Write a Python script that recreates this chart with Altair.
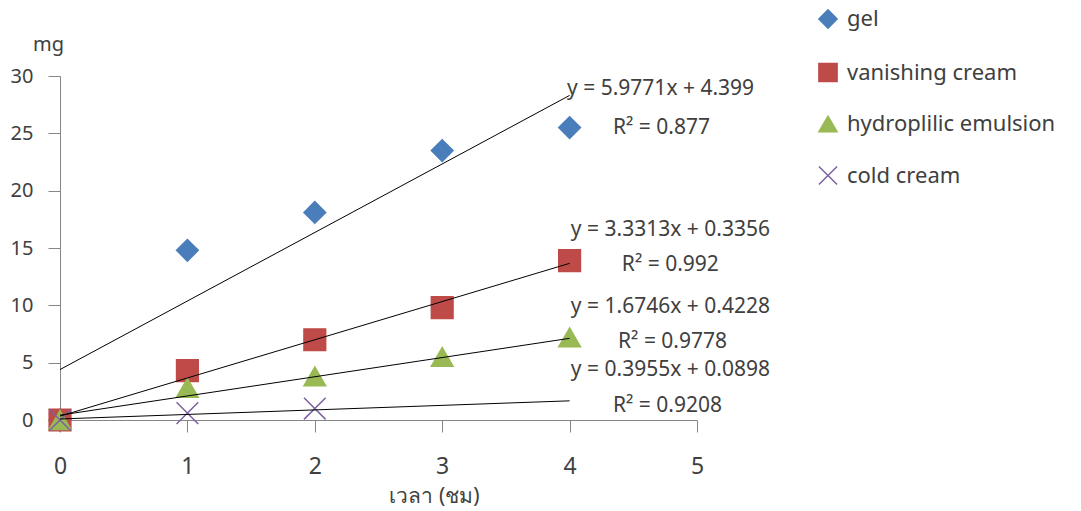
import altair as alt
import pandas as pd

# Release of drug (mg) over time for four bases
series = ["gel", "vanishing cream", "hydroplilic emulsion", "cold cream"]
hours = [0, 1, 2, 3, 4]
gel = [0.0, 14.8, 18.1, 23.5, 25.5]
vanishing = [0.0, 4.3, 7.0, 9.8, 13.9]
hydrophilic = [0.0, 2.8, 3.8, 5.5, 7.2]
cold = [0.0, 0.6, 1.0]

# Linear trendlines: y = slope * x + intercept
slopes = [5.9771, 3.3313, 1.6746, 0.3955]
intercepts = [4.399, 0.3356, 0.4228, 0.0898]
r_squared = [0.877, 0.992, 0.9778, 0.9208]
trend_span = [0, 4]

colors = ["#4A7EBB", "#BE4B48", "#98B954", "#7D60A0"]
shapes = ["diamond", "square", "triangle-up", "M-1,-1L1,1M-1,1L1,-1"]

# label anchors in (hours, mg) for the equation and R² texts
eq_anchor = [(3.98, 28.9), (4.01, 16.6), (4.01, 9.85), (4.01, 4.36)]
r2_anchor = [(4.34, 25.5), (4.41, 13.5), (4.38, 6.8), (4.34, 1.2)]

FONT = "Noto Sans"
TEXT = "#404040"
AXIS = "#868686"

rows = []
for name, ys in zip(series, [gel, vanishing, hydrophilic, cold]):
    for x, y in zip(hours, ys):
        rows.append({"series": name, "x": x, "y": y})
points = pd.DataFrame(rows)

trend_rows = []
for name, m, b in zip(series, slopes, intercepts):
    for x in trend_span:
        trend_rows.append({"series": name, "x": x, "y": m * x + b})
trend = pd.DataFrame(trend_rows)

label_rows = []
for i, name in enumerate(series):
    label_rows.append({"x": eq_anchor[i][0], "y": eq_anchor[i][1],
                       "text": f"y = {slopes[i]}x + {intercepts[i]}"})
    label_rows.append({"x": r2_anchor[i][0], "y": r2_anchor[i][1],
                       "text": f"R² = {r_squared[i]}"})
labels = pd.DataFrame(label_rows)

x_scale = alt.Scale(domain=[0, 5], nice=False, zero=False)
y_scale = alt.Scale(domain=[0, 30], nice=False)

x_enc = alt.X("x:Q", scale=x_scale, axis=alt.Axis(
    values=[0, 1, 2, 3, 4, 5], format="d", title="เวลา (ชม)", tickSize=12,
    labelFontSize=23, labelPadding=23, labelFlush=False, titleX=374,
    titleY=76, titleFontSize=21, titleAlign="center",
    titleBaseline="middle"))
y_enc = alt.Y("y:Q", scale=y_scale, axis=alt.Axis(
    values=[0, 5, 10, 15, 20, 25, 30], format="d", title="mg", tickSize=12,
    labelPadding=15, labelFlush=False, titleAngle=0, titleX=-12,
    titleY=-32, titleAlign="center", titleBaseline="middle"))

color_scale = alt.Scale(domain=series, range=colors)
shape_scale = alt.Scale(domain=series, range=shapes)

pts = alt.Chart(points).mark_point(
    filled=True, size=470, opacity=1, strokeWidth=1.5
).encode(
    x=x_enc,
    y=y_enc,
    color=alt.Color("series:N", scale=color_scale, title=None, sort=series),
    stroke=alt.Stroke("series:N", scale=color_scale, title=None, sort=series),
    shape=alt.Shape("series:N", scale=shape_scale, title=None, sort=series),
)

lines = alt.Chart(trend).mark_line(color="black", strokeWidth=1).encode(
    x="x:Q", y="y:Q", detail="series:N"
)

texts = alt.Chart(labels).mark_text(
    align="left", baseline="middle", fontSize=21, color=TEXT, font=FONT
).encode(x="x:Q", y="y:Q", text="text:N")

chart = alt.layer(pts, lines, texts).properties(
    width=637, height=344,
    autosize=alt.AutoSizeParams(type="none"),
    padding={"left": 60, "top": 76, "right": 384, "bottom": 91},
).configure(font=FONT).configure_view(stroke=None).configure_axis(
    grid=False, domainColor=AXIS, tickColor=AXIS, labelColor=TEXT,
    titleColor=TEXT, labelFontSize=20, titleFontSize=20,
    titleFontWeight="normal", labelFont=FONT, titleFont=FONT,
).configure_legend(
    orient="none", legendX=757, legendY=-68, symbolSize=330,
    labelFontSize=22, labelColor=TEXT, labelFont=FONT, rowPadding=27.5,
    labelOffset=8, padding=0, symbolStrokeWidth=1.5, labelLimit=400,
)

chart.save("out.html", embed_options={"renderer": "svg", "actions": False})
